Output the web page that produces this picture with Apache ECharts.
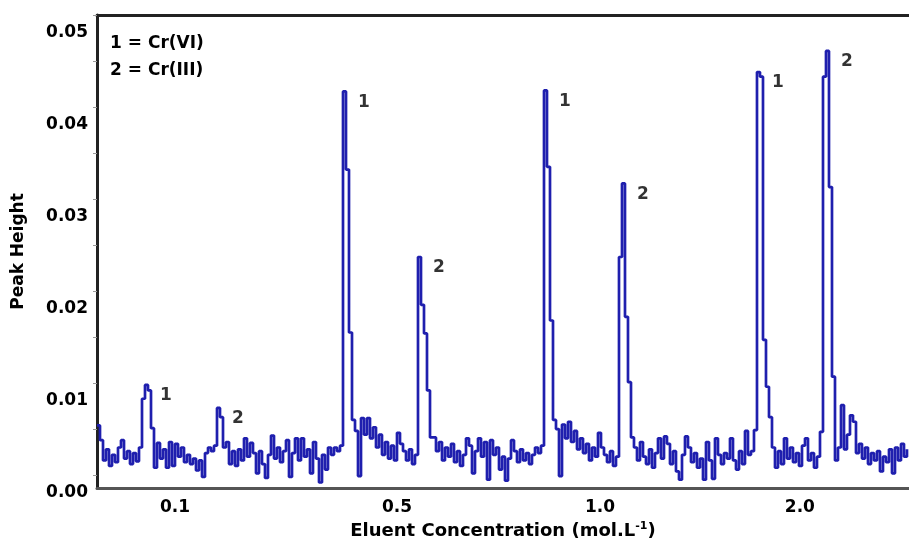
<!DOCTYPE html>
<html>
<head>
<meta charset="utf-8">
<script src="https://cdn.jsdelivr.net/npm/echarts@6/dist/echarts.min.js"></script>
<style>
html,body{margin:0;padding:0;background:#fff;}
#chart{width:909px;height:546px;}
</style>
</head>
<body>
<div id="chart"></div>
<script>
// Detector trace: peak height per sample (sample index along the run)
const peakHeight = [
  0.0054,0.0038,0.0016,0.0028,0.0010,0.0022,0.0014,0.0030,0.0038,0.0018,
  0.0026,0.0012,0.0024,0.0015,0.0030,0.0083,0.0098,0.0092,0.0051,0.0008,
  0.0035,0.0018,0.0028,0.0008,0.0036,0.0010,0.0034,0.0020,0.0030,0.0014,
  0.0022,0.0012,0.0018,0.0005,0.0016,-0.0002,0.0024,0.0030,0.0026,0.0032,
  0.0073,0.0063,0.0030,0.0036,0.0012,0.0026,0.0010,0.0028,0.0016,0.0040,
  0.0020,0.0035,0.0024,0.0002,0.0026,0.0012,-0.0003,0.0022,0.0043,0.0018,
  0.0030,0.0014,0.0026,0.0038,-0.0002,0.0024,0.0040,0.0016,0.0040,0.0020,
  0.0028,0.0002,0.0036,0.0018,-0.0008,0.0022,0.0006,0.0030,0.0022,0.0030,
  0.0026,0.0032,0.0417,0.0332,0.0155,0.0060,0.0048,-0.0001,0.0062,0.0044,
  0.0062,0.0040,0.0052,0.0030,0.0044,0.0022,0.0036,0.0018,0.0032,0.0016,
  0.0046,0.0034,0.0026,0.0016,0.0028,0.0012,0.0022,0.0237,0.0185,0.0154,
  0.0092,0.0041,0.0041,0.0026,0.0036,0.0016,0.0030,0.0020,0.0034,0.0014,
  0.0026,0.0010,0.0022,0.0040,0.0032,0.0002,0.0026,0.0040,0.0020,0.0036,
  -0.0005,0.0038,0.0022,0.0030,0.0006,0.0020,-0.0006,0.0018,0.0038,0.0026,
  0.0014,0.0028,0.0016,0.0024,0.0012,0.0022,0.0030,0.0024,0.0032,0.0418,
  0.0335,0.0168,0.0060,0.0050,-0.0001,0.0055,0.0040,0.0058,0.0036,0.0048,
  0.0028,0.0040,0.0024,0.0034,0.0016,0.0030,0.0020,0.0046,0.0030,0.0022,
  0.0014,0.0026,0.0010,0.0020,0.0237,0.0317,0.0172,0.0101,0.0041,0.0030,
  0.0016,0.0036,0.0020,0.0012,0.0028,0.0008,0.0024,0.0040,0.0018,0.0042,
  0.0034,0.0012,0.0026,0.0004,-0.0005,0.0022,0.0042,0.0030,0.0014,0.0024,
  0.0008,0.0018,-0.0005,0.0036,0.0016,-0.0004,0.0040,0.0022,0.0012,0.0024,
  0.0018,0.0040,0.0016,0.0006,0.0026,0.0012,0.0048,0.0022,0.0026,0.0049,
  0.0438,0.0433,0.0147,0.0096,0.0063,0.0030,0.0008,0.0026,0.0012,0.0040,
  0.0018,0.0030,0.0014,0.0024,0.0010,0.0032,0.0040,0.0016,0.0024,0.0008,
  0.0020,0.0047,0.0433,0.0461,0.0313,0.0107,0.0016,0.0030,0.0076,0.0028,
  0.0044,0.0065,0.0058,0.0024,0.0034,0.0018,0.0030,0.0012,0.0024,0.0016,
  0.0026,0.0004,0.0020,0.0014,0.0028,0.0002,0.0030,0.0016,0.0034,0.0020,
  0.0028
];

// Peak annotations: sample index of each peak apex and its label
const peakIndex = [16, 40, 82, 107, 149, 175, 220, 243];
const peakText  = ['1', '2', '1', '2', '1', '2', '1', '2'];

// X axis: eluent concentration labels placed along the run (sample index)
const xTickPos    = [26, 100, 167.7, 234.3];
const xTickLabels = ['0.1', '0.5', '1.0', '2.0'];

// Y axis ticks
const yLabelValues = [0, 0.01, 0.02, 0.03, 0.04, 0.05];
const yTickValues  = [0, 0.005, 0.01, 0.015, 0.02, 0.025, 0.03, 0.035, 0.04, 0.045, 0.05];

// Legend lines
const legendLines = ['1 = Cr(VI)', '2 = Cr(III)'];

const FONT = '"DejaVu Sans", "Liberation Sans", Arial, sans-serif';
const traceData = peakHeight.map((v, i) => [i, v]);
const labelData = peakIndex.map((i, k) => ({ value: [i, peakHeight[i]], name: peakText[k] }));

const chart = echarts.init(document.getElementById('chart'), null, { renderer: 'canvas' });
chart.setOption({
  backgroundColor: '#ffffff',
  animation: false,
  grid: { left: 97, right: 0, top: 15, bottom: 58, containLabel: false },
  xAxis: [
    {
      type: 'value', min: 0, max: 270.67, position: 'bottom',
      name: 'Eluent Concentration (mol.L{sup|-1})',
      nameLocation: 'middle', nameGap: 33,
      nameTextStyle: {
        fontFamily: FONT, fontWeight: 'bold', fontSize: 18, color: '#000',
        rich: { sup: { fontFamily: FONT, fontWeight: 'bold', fontSize: 11, color: '#000', verticalAlign: 'top', padding: [0, 0, 9, 0] } }
      },
      axisLine: { show: true, onZero: false, lineStyle: { color: '#555', width: 3 } },
      axisTick: { show: false },
      splitLine: { show: false },
      axisLabel: {
        show: true, customValues: xTickPos, margin: 11,
        fontFamily: FONT, fontWeight: 'bold', fontSize: 17, color: '#000',
        formatter: (v) => { const k = xTickPos.indexOf(v); return k >= 0 ? xTickLabels[k] : ''; }
      }
    },
    {
      type: 'value', min: 0, max: 270.67, position: 'top',
      axisLine: { show: true, onZero: false, lineStyle: { color: '#222', width: 3 } },
      axisTick: { show: false }, axisLabel: { show: false }, splitLine: { show: false }
    }
  ],
  yAxis: {
    type: 'value', min: -0.0014, max: 0.05,
    name: 'Peak Height', nameLocation: 'middle', nameGap: 70, nameRotate: 90,
    nameTextStyle: { fontFamily: FONT, fontWeight: 'bold', fontSize: 17, color: '#000' },
    axisLine: { show: true, onZero: false, lineStyle: { color: '#222', width: 3 } },
    axisTick: { show: true, customValues: yTickValues, length: 4, inside: false, lineStyle: { color: '#999', width: 1 } },
    splitLine: { show: false },
    axisLabel: {
      show: true, customValues: yLabelValues, margin: 9,
      fontFamily: FONT, fontWeight: 'bold', fontSize: 17, color: '#000',
      verticalAlign: 'top', padding: [9, 0, 0, 0],
      formatter: (v) => v.toFixed(2)
    }
  },
  series: [
    {
      type: 'line', xAxisIndex: 0, data: traceData, step: 'end',
      showSymbol: false, symbol: 'none', clip: true,
      lineStyle: { color: '#1f1fae', width: 2.7 },
      z: 3
    },
    {
      type: 'scatter', xAxisIndex: 0, data: labelData, symbolSize: 0, silent: true,
      label: {
        show: true, position: 'inside', offset: [21, 11],
        formatter: (p) => p.name,
        fontFamily: FONT, fontWeight: 'bold', fontSize: 17, color: '#000'
      },
      z: 4
    }
  ],
  graphic: legendLines.map((t, k) => ({
    type: 'text', left: 110, top: 35 + k * 27,
    style: { text: t, font: 'bold 17px ' + FONT, fill: '#000' }
  }))
});
</script>
</body>
</html>
